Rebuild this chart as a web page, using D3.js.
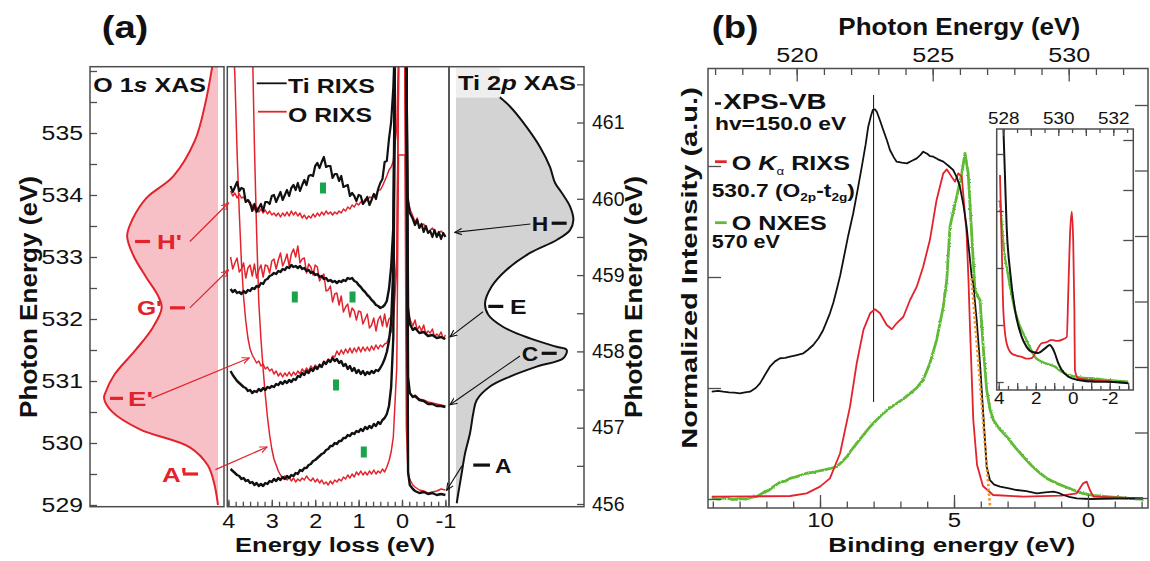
<!DOCTYPE html>
<html>
<head>
<meta charset="utf-8">
<script src="https://cdn.jsdelivr.net/npm/d3@7/dist/d3.min.js"></script>
<style>
  body { margin: 0; background: #fff; }
  svg { display: block; }
  text { font-family: 'Liberation Sans', Arial, Helvetica, sans-serif; }
</style>
</head>
<body>
<svg id="chart" width="1150" height="561"></svg>
<script>
// ---------- panel (a) data ----------
// O 1s XAS: [photon energy (eV), intensity]
const oXas = [
  [536.07, 0.045], [535.47, 0.10], [534.88, 0.18], [534.30, 0.35], [533.95, 0.56], [533.6, 0.67],
  [533.34, 0.71], [533.02, 0.66], [532.67, 0.56], [532.38, 0.47], [532.18, 0.44], [531.86, 0.51],
  [531.51, 0.64], [531.1, 0.81], [530.81, 0.88], [530.72, 0.89], [530.51, 0.83], [530.22, 0.61],
  [529.93, 0.22], [529.64, 0.08], [529.35, 0.03], [529.0, 0.0]
]
// Ti 2p XAS: [photon energy (eV), intensity]
const tiXas = [
  [461.36, 0.342], [461.21, 0.45], [460.94, 0.589], [460.68, 0.70], [460.42, 0.783], [460.21, 0.825],
  [460.08, 0.881], [459.90, 0.95], [459.72, 0.978], [459.59, 0.95], [459.46, 0.839], [459.29, 0.617],
  [459.07, 0.422], [458.85, 0.297], [458.63, 0.242], [458.48, 0.269], [458.32, 0.394], [458.17, 0.617],
  [458.06, 0.839], [458.02, 0.922], [457.91, 0.894], [457.80, 0.672], [457.67, 0.45], [457.54, 0.283],
  [457.36, 0.172], [457.19, 0.144], [456.93, 0.117], [456.66, 0.075], [456.40, 0.047], [456.14, 0.019],
  [456.01, 0.006]
]

// RIXS spectra (offset), sampled on the loss grid 3.95 ... 0.30 eV, then elastic peak + tail
const lossGrid = d3.range(74).map(i => +(3.95 - i * 0.05).toFixed(2))

const tiH = [
  32.1, 31.5, 32.0, 32.5, 31.6, 31.9, 31.8, 30.5, 30.7, 30.4,
  29.6, 30.3, 29.5, 29.9, 30.3, 29.6, 30.5, 30.5, 30.3, 31.1,
  31.2, 30.5, 31.0, 31.5, 30.7, 31.2, 31.7, 31.1, 31.9, 32.2,
  31.7, 32.4, 31.6, 32.2, 32.7, 32.2, 33.1, 33.2, 33.1, 34.1,
  34.4, 33.9, 34.5, 35.0, 34.0, 34.1, 34.1, 32.9, 33.3, 33.3,
  32.6, 33.1, 32.0, 32.1, 32.2, 31.1, 31.4, 31.1, 30.6, 31.2,
  31.1, 30.3, 30.6, 31.0, 30.2, 30.7, 31.3, 30.8, 31.8, 32.4,
  32.8, 34.5, 34.6, 36.8
]
const tiHTail = [[0.25, 38.5], [0.2, 42], [0.16, 47], [-0.1, 47], [-0.13, 31], [-0.18, 29.4], [-0.24, 28.9],
  [-0.3, 28.2], [-0.35, 28.7], [-0.4, 27.9], [-0.45, 28.3], [-0.5, 27.5], [-0.55, 28.1], [-0.6, 27.4],
  [-0.65, 27.6], [-0.7, 27.0], [-0.75, 27.7], [-0.8, 27.0], [-0.85, 27.5], [-0.9, 26.8], [-0.95, 27.4], [-1.0, 27.0]]

const oH = [
  31.6, 31.1, 31.4, 30.9, 31.3, 30.9, 31.0, 30.5, 30.7, 30.2,
  30.2, 29.7, 30.0, 29.5, 29.8, 29.4, 29.7, 29.3, 29.6, 29.2,
  29.4, 29.1, 29.4, 29.0, 29.4, 29.1, 29.5, 29.1, 29.6, 29.2,
  29.5, 29.1, 29.4, 28.9, 29.2, 28.8, 29.1, 28.9, 29.3, 29.0,
  29.4, 29.1, 29.5, 29.2, 29.6, 29.3, 29.5, 29.2, 29.5, 29.3,
  29.6, 29.4, 29.8, 29.6, 30.0, 29.8, 30.2, 30.0, 30.4, 30.2,
  30.5, 30.4, 30.8, 30.6, 31.0, 30.9, 31.3, 31.2, 31.7, 31.7,
  32.1, 32.6, 33.1, 33.7
]
const oHTail = [[0.25, 34.0], [0.2, 34.6], [0.12, 38], [0.07, 47], [-0.06, 47], [-0.11, 32], [-0.15, 30.4],
  [-0.2, 29.6], [-0.25, 29.1], [-0.3, 28.5], [-0.35, 28.9], [-0.4, 28.0], [-0.5, 28.3], [-0.6, 27.5],
  [-0.7, 27.9], [-0.8, 27.2], [-0.9, 27.6], [-1.0, 27.1]]

const tiE = [
  21.8, 21.5, 21.7, 21.4, 21.5, 21.3, 21.6, 21.4, 21.7, 21.6,
  21.9, 21.8, 22.1, 22.0, 22.4, 22.3, 22.7, 22.8, 23.1, 23.2,
  23.4, 23.3, 23.6, 23.5, 23.8, 23.7, 24.0, 23.9, 24.2, 24.0,
  24.1, 23.9, 24.1, 23.8, 23.9, 23.6, 23.7, 23.4, 23.5, 23.2,
  23.3, 23.0, 23.1, 22.8, 22.9, 22.6, 22.7, 22.5, 22.6, 22.4,
  22.6, 22.5, 22.7, 22.6, 22.9, 22.8, 22.9, 22.6, 22.5, 22.2,
  22.0, 21.7, 21.5, 21.2, 21.0, 20.7, 20.5, 20.2, 20.1, 19.9,
  20.0, 20.2, 20.6, 21.8
]
const tiETail = [[0.25, 24], [0.2, 28], [0.16, 47], [-0.1, 47], [-0.14, 20], [-0.18, 18.3], [-0.25, 17.7],
  [-0.3, 17.9], [-0.4, 17.4], [-0.5, 17.5], [-0.6, 17.1], [-0.7, 17.2], [-0.8, 16.9], [-0.9, 17.0], [-1.0, 16.8]]

const oG = [
  25.0, 23.8, 24.4, 24.9, 23.5, 23.8, 24.4, 22.9, 23.9, 24.2,
  23.1, 24.3, 22.9, 23.7, 24.2, 23.0, 24.2, 24.1, 23.4, 24.6,
  24.8, 23.8, 24.7, 25.4, 24.1, 24.6, 25.3, 24.1, 25.3, 25.8,
  25.0, 26.1, 24.4, 24.8, 24.9, 23.4, 24.3, 24.0, 23.2, 24.2,
  24.0, 22.6, 23.0, 23.3, 21.6, 21.7, 22.1, 20.5, 21.3, 21.4,
  20.2, 21.1, 19.5, 20.0, 20.3, 19.0, 19.9, 19.6, 18.7, 19.6,
  19.5, 18.3, 18.8, 19.3, 17.9, 18.2, 18.9, 17.6, 18.7, 19.1,
  18.1, 19.3, 18.0, 18.8
]
const oGTail = [[0.25, 19.0], [0.2, 19.8], [0.12, 25], [0.07, 47], [-0.06, 47], [-0.11, 21], [-0.15, 19.2],
  [-0.2, 18.6], [-0.25, 18.1], [-0.3, 18.7], [-0.35, 17.7], [-0.4, 18.1], [-0.45, 17.6], [-0.5, 18.2],
  [-0.55, 17.3], [-0.6, 17.6], [-0.65, 17.4], [-0.7, 17.8], [-0.75, 17.0], [-0.8, 17.3], [-0.85, 17.1],
  [-0.9, 17.5], [-0.95, 16.8], [-1.0, 17.2]]

const tiC = [
  13.6, 13.2, 12.9, 12.6, 12.4, 12.2, 12.0, 11.9, 11.6, 11.7,
  11.4, 11.6, 11.5, 11.8, 11.6, 11.9, 11.7, 12.0, 11.9, 12.1,
  12.0, 12.3, 12.2, 12.5, 12.3, 12.6, 12.4, 12.7, 12.5, 12.8,
  12.7, 13.1, 13.0, 13.4, 13.2, 13.6, 13.4, 13.8, 13.6, 14.0,
  13.8, 14.2, 14.0, 14.5, 14.3, 14.7, 14.5, 14.9, 14.6, 14.8,
  14.4, 14.6, 14.1, 14.3, 13.8, 14.1, 13.6, 13.9, 13.4, 13.7,
  13.3, 13.6, 13.2, 13.5, 13.3, 13.6, 13.4, 13.7, 13.6, 13.9,
  14.3, 14.8, 15.5, 16.6
]
const tiCTail = [[0.25, 18.5], [0.2, 24], [0.16, 47], [-0.1, 47], [-0.14, 13], [-0.18, 11.4], [-0.25, 11.0],
  [-0.3, 11.1], [-0.4, 10.7], [-0.5, 10.6], [-0.6, 10.3], [-0.7, 10.3], [-0.8, 10.1], [-0.9, 10.1], [-1.0, 10.0]]

const oE = [
  null, 48, 43, 35.5, 29.5, 24.5, 21.0, 18.6, 16.9, 15.8,
  15.2, 14.8, 14.4, 14.6, 14.1, 14.3, 13.8, 14.0, 13.6, 13.8,
  13.3, 13.6, 13.1, 13.4, 13.0, 13.4, 13.1, 13.5, 13.1, 13.5,
  13.2, 13.6, 13.3, 13.8, 13.5, 13.9, 13.6, 14.1, 13.8, 14.2,
  13.9, 14.3, 14.1, 14.6, 14.3, 14.8, 14.5, 15.1, 15.0, 15.6,
  15.2, 15.7, 15.3, 15.8, 15.4, 15.9, 15.4, 15.9, 15.5, 16.0,
  15.5, 16.0, 15.6, 16.0, 15.6, 16.1, 15.7, 16.2, 15.8, 16.2,
  16.0, 16.3, 16.4, 17.0
]
const oETail = [[0.25, 17.5], [0.2, 18.5], [0.12, 24], [0.07, 47], [-0.06, 47], [-0.11, 14], [-0.15, 11.8],
  [-0.2, 11.3], [-0.25, 11.0], [-0.3, 11.2], [-0.4, 10.8], [-0.5, 10.7], [-0.6, 10.5], [-0.7, 10.4],
  [-0.8, 10.3], [-0.9, 10.2], [-1.0, 10.1]]

const tiA = [
  3.8, 3.6, 3.4, 3.2, 3.1, 2.8, 2.9, 2.6, 2.7, 2.4,
  2.5, 2.2, 2.4, 2.1, 2.3, 2.1, 2.4, 2.3, 2.6, 2.5,
  2.8, 2.6, 2.9, 2.7, 3.0, 2.8, 3.1, 2.9, 3.2, 3.1,
  3.4, 3.3, 3.7, 3.6, 3.9, 3.9, 4.2, 4.3, 4.6, 4.7,
  4.9, 5.1, 5.3, 5.4, 5.7, 5.8, 6.1, 6.1, 6.4, 6.3,
  6.6, 6.6, 6.9, 6.9, 7.2, 7.1, 7.4, 7.3, 7.6, 7.5,
  7.8, 7.6, 8.0, 7.8, 8.1, 7.9, 8.3, 8.1, 8.5, 8.3,
  8.7, 8.9, 9.3, 10.1
]
const tiATail = [[0.25, 12], [0.2, 17], [0.16, 47], [-0.1, 47], [-0.14, 3.5], [-0.18, 2.2], [-0.25, 1.8],
  [-0.3, 1.6], [-0.4, 1.4], [-0.5, 1.5], [-0.6, 1.3], [-0.7, 1.4], [-0.8, 1.2], [-0.9, 1.3], [-1.0, 1.2]]

const oA = [
  null, null, null, null, null, null, null, null, null, null,
  47, 36, 27.5, 20.5, 16.8, 13.8, 11.2, 9.0, 7.2, 5.8,
  4.8, 4.2, 3.6, 3.2, 2.9, 3.1, 2.7, 3.0, 2.6, 2.9,
  2.5, 2.8, 2.6, 2.9, 2.7, 3.1, 2.8, 2.6, 2.9, 2.5,
  2.8, 2.4, 2.7, 2.3, 2.5, 2.2, 2.6, 2.3, 2.7, 2.5,
  2.8, 2.6, 3.0, 2.8, 3.2, 2.9, 3.3, 3.0, 3.5, 3.2,
  3.6, 3.2, 3.5, 3.2, 3.6, 3.3, 3.7, 3.3, 3.6, 3.4,
  3.8, 3.5, 4.0, 4.6
]
const oATail = [[0.25, 5.5], [0.2, 7], [0.12, 14], [0.08, 35.2], [-0.07, 35.2], [-0.1, 8], [-0.14, 3.2],
  [-0.2, 2.6], [-0.25, 2.2], [-0.3, 2.0], [-0.4, 1.7], [-0.5, 1.6], [-0.6, 1.4], [-0.7, 1.5], [-0.8, 1.6],
  [-0.9, 1.8], [-1.0, 1.7]]

// green feature markers [loss, intensity]
const greenMarks = [[1.82, 31.9], [2.47, 21.0], [1.14, 21.0], [1.52, 12.2], [0.88, 5.5]]

// O XAS labels: [text, energy, dash from, dash to, text start] (intensity units)
const oLabels = [["H'", 533.25, 0.648, 0.531, 0.477], ["G'", 532.18, 0.375, 0.258, 0.633],
  ["E'", 530.72, 0.844, 0.742, 0.703], ["A'", 529.5, 0.273, 0.156, 0.4375]]
const tiLabels = [["H", 459.68, 0.797, 0.922, 0.631], ["E", 458.59, 0.269, 0.394, 0.45],
  ["C", 457.975, 0.714, 0.839, 0.547], ["A", 456.51, 0.144, 0.283, 0.325]]
// arrows: O XAS [intensity, energy] -> RIXS [loss, intensity]
const oArrows = [[[0.22, 533.25], [4.0, 30.4]], [[0.22, 532.18], [4.0, 23.7]],
  [[0.52, 530.72], [3.52, 14.9]], [[0.02, 529.57], [3.11, 6.0]]]
// arrows inside Ti XAS panel: [intensity, energy] -> [intensity, energy]
const tiArrows = [[[0.62, 459.67], [-0.01, 459.56]], [[0.225, 458.52], [-0.05, 458.19]],
  [[0.533, 457.94], [-0.05, 457.30]], [[0.05, 456.50], [-0.078, 456.18]]]

// ---------- panel (b) data: [binding energy (eV), intensity] ----------
const xpsVB = [[14.04, 0.967], [13.8, 0.975], [13.61, 0.967], [13.4, 0.96], [13.2, 0.958], [12.99, 0.952],
  [12.8, 0.96], [12.61, 0.967], [12.4, 1.0], [12.24, 1.042], [12.05, 1.12], [11.87, 1.192], [11.68, 1.24],
  [11.49, 1.268], [11.3, 1.272], [11.12, 1.282], [10.9, 1.295], [10.62, 1.313], [10.45, 1.345], [10.25, 1.387],
  [10.05, 1.45], [9.88, 1.523], [9.75, 1.6], [9.63, 1.673], [9.5, 1.77], [9.38, 1.883], [9.25, 2.01],
  [9.13, 2.153], [8.95, 2.37], [8.76, 2.574], [8.6, 2.78], [8.44, 2.994], [8.3, 3.19], [8.2, 3.354],
  [8.1, 3.45], [8.03, 3.505], [7.95, 3.51], [7.88, 3.489], [7.76, 3.41], [7.64, 3.324], [7.5, 3.23],
  [7.39, 3.144], [7.25, 3.08], [7.14, 3.039], [6.95, 3.03], [6.76, 3.024], [6.55, 3.05], [6.39, 3.069],
  [6.25, 3.1], [6.15, 3.129], [6.0, 3.11], [5.9, 3.09], [5.77, 3.084], [5.6, 3.06], [5.4, 3.039], [5.2, 3.0],
  [5.03, 2.964], [4.9, 2.9], [4.78, 2.814], [4.65, 2.65], [4.53, 2.453], [4.43, 2.22], [4.34, 2.003],
  [4.28, 1.93], [4.15, 1.6], [4.03, 1.223], [3.91, 0.772], [3.78, 0.291], [3.66, 0.171], [3.5, 0.13],
  [3.28, 0.111], [2.95, 0.095], [2.66, 0.081], [2.3, 0.07], [1.91, 0.051], [1.6, 0.06], [1.29, 0.066],
  [1.1, 0.055], [0.92, 0.036], [0.7, 0.02], [0.42, 0.006], [-0.07, 0], [-1.0, 0.003], [-2.05, 0.006]]

const oKaRixs = [[14.04, 0.021], [12.5, 0.024], [11.12, 0.027], [10.5, 0.051], [10.0, 0.111], [9.63, 0.186],
  [9.25, 0.412], [8.88, 0.832], [8.63, 1.223], [8.38, 1.523], [8.13, 1.673], [7.95, 1.709], [7.76, 1.673],
  [7.51, 1.568], [7.32, 1.529], [7.14, 1.583], [6.89, 1.642], [6.64, 1.793], [6.39, 1.913], [6.15, 2.093],
  [5.9, 2.333], [5.65, 2.694], [5.4, 2.934], [5.27, 2.97], [5.09, 2.904], [4.96, 2.859], [4.84, 2.934],
  [4.71, 2.904], [4.53, 2.394], [4.46, 1.973], [4.4, 1.523], [4.28, 0.712], [4.14, 0.306], [3.92, 0.117],
  [3.54, 0.036], [2.41, 0.021], [1.0, 0.03], [0.42, 0.051], [0.18, 0.141], [0.05, 0.156], [-0.07, 0.081],
  [-0.2, 0.021], [-2.06, 0.006]]

const oNxes = [[14.04, 0.006], [13.75, 0.0], [13.5, 0.012], [13.25, -0.005], [12.99, 0.004], [12.75, 0.0],
  [12.5, 0.018], [12.36, 0.021], [12.1, 0.06], [11.9, 0.08], [11.74, 0.111], [11.5, 0.15], [11.3, 0.16],
  [11.12, 0.186], [10.9, 0.2], [10.7, 0.215], [10.5, 0.232], [10.3, 0.24], [10.1, 0.25], [9.88, 0.261],
  [9.6, 0.275], [9.38, 0.291], [9.2, 0.33], [9.0, 0.381], [8.8, 0.45], [8.63, 0.502], [8.4, 0.57],
  [8.13, 0.651], [7.9, 0.71], [7.64, 0.772], [7.4, 0.82], [7.14, 0.862], [6.9, 0.9], [6.64, 0.952],
  [6.4, 1.0], [6.15, 1.072], [5.9, 1.222], [5.65, 1.432], [5.4, 1.732], [5.27, 1.973], [5.15, 2.453],
  [5.0, 2.62], [4.9, 2.723], [4.71, 2.934], [4.59, 3.114], [4.47, 2.934], [4.34, 2.394], [4.22, 1.883],
  [4.1, 1.82], [4.03, 1.793], [3.91, 1.372], [3.78, 0.982], [3.65, 0.8], [3.53, 0.712], [3.3, 0.63],
  [3.03, 0.561], [2.7, 0.46], [2.41, 0.381], [2.1, 0.3], [1.79, 0.232], [1.5, 0.18], [1.17, 0.141],
  [0.85, 0.11], [0.55, 0.081], [0.2, 0.05], [-0.2, 0.032], [-0.7, 0.021], [-1.3, 0.01], [-2.06, -0.003]]

const edgeFit = [[4.35, 1.99], [3.65, -0.08]]
const markerLine = [[8.0, 0.874], [8.0, 3.64]]

// inset: [energy loss (eV), intensity]
const insetXps = [[3.76, 4.6], [3.66, 3.60], [3.57, 2.72], [3.39, 1.96], [3.12, 1.26], [2.76, 0.795],
  [2.5, 0.62], [2.22, 0.53], [1.86, 0.51], [1.5, 0.59], [1.23, 0.65], [1.1, 0.6], [0.96, 0.50], [0.78, 0.33],
  [0.59, 0.21], [0.24, 0.093], [-0.3, 0.035], [-1.21, 0.005], [-2.2, 0.0], [-3.0, -0.02]]
const insetRixs = [[3.93, 3.63], [3.84, 2.43], [3.75, 1.26], [3.57, 0.68], [3.30, 0.50], [3.0, 0.46],
  [2.76, 0.44], [2.5, 0.41], [2.22, 0.42], [1.95, 0.55], [1.68, 0.68], [1.4, 0.70], [1.14, 0.74], [0.85, 0.72],
  [0.59, 0.74], [0.32, 0.79], [0.24, 1.56], [0.15, 2.55], [0.05, 2.99], [-0.03, 2.43], [-0.09, 1.26],
  [-0.12, 0.21], [-0.3, 0.065], [-1.03, 0.035], [-2.0, 0.01], [-3.0, -0.02]]
const insetNxes = [[3.93, 3.19], [3.75, 2.43], [3.48, 1.85], [3.12, 1.26], [2.85, 0.98], [2.58, 0.795],
  [2.3, 0.6], [2.04, 0.44], [1.75, 0.37], [1.5, 0.33], [1.2, 0.3], [0.96, 0.27], [0.7, 0.2], [0.42, 0.15],
  [-0.12, 0.093], [-0.6, 0.07], [-1.03, 0.065], [-2.0, 0.03], [-3.0, 0.005]]

// ---------- drawing ----------
const RED = '#e3232c', BLACK = '#111', GREEN = '#5fbb35', ORANGE = '#f7901e', FRAME = '#4d4d4d'
const svg = d3.select('#chart')
svg.append('rect').attr('width', 1150).attr('height', 561).attr('fill', '#fff')
const defs = svg.append('defs')

function clip(id, x, y, w, h) {
  defs.append('clipPath').attr('id', id).append('rect')
    .attr('x', x).attr('y', y).attr('width', w).attr('height', h)
}
function arrowHead(id, color) {
  defs.append('marker').attr('id', id).attr('viewBox', '0 0 10 10')
    .attr('refX', 9).attr('refY', 5).attr('markerWidth', 8).attr('markerHeight', 8)
    .attr('markerUnits', 'userSpaceOnUse').attr('orient', 'auto')
    .append('path').attr('d', 'M0,1 L9,5 L0,9').attr('fill', 'none')
    .attr('stroke', color).attr('stroke-width', 1.4)
}
arrowHead('headRed', RED)
arrowHead('headBlack', BLACK)

// measurement noise look for the recorded traces (rendering effect only)
const noisy = defs.append('filter').attr('id', 'noisy').attr('filterUnits', 'userSpaceOnUse')
  .attr('x', 0).attr('y', 0).attr('width', 1150).attr('height', 561)
noisy.append('feTurbulence').attr('type', 'fractalNoise').attr('baseFrequency', 0.6)
  .attr('numOctaves', 1).attr('seed', 4).attr('result', 'n')
noisy.append('feDisplacementMap').attr('in', 'SourceGraphic').attr('in2', 'n').attr('scale', 2.6)
  .attr('xChannelSelector', 'R').attr('yChannelSelector', 'G')

// stretch text horizontally to the width it has in the figure
function fit(t, x, y, w, rotate) {
  const bw = t.node().getBBox().width
  t.attr('transform', `translate(${x},${y})` + (rotate ? ' rotate(-90)' : '') + ` scale(${w / bw},1)`)
  return t
}
function label(parent, str, x, y, size, w, opts = {}) {
  const t = parent.append('text').attr('font-size', size).attr('font-weight', opts.weight || 'bold')
    .attr('fill', opts.color || BLACK).attr('text-anchor', opts.anchor || 'start').text(str)
  return fit(t, x, y, w, opts.rotate)
}
function styleAxis(g, size, sx = 1.18) {
  g.select('.domain').remove()
  g.selectAll('.tick line').attr('stroke', FRAME).attr('stroke-width', 1.3)
  g.selectAll('.tick text').attr('font-size', size).attr('fill', BLACK)
    .attr('transform', `scale(${sx},1)`)
  return g
}
function frame(x, y, w, h, fill) {
  svg.append('rect').attr('x', x).attr('y', y).attr('width', w).attr('height', h)
    .attr('fill', fill || 'none').attr('stroke', FRAME).attr('stroke-width', 1.5)
}

// ===== panel (a) =====
const A = { oLeft: 90, oRight: 224, midLeft: 227.3, midRight: 449, tiRight: 584, top: 66.7, bottom: 506.7 }
const yO = d3.scaleLinear().domain([529, 536]).range([505, 71])
const xO = d3.scaleLinear().domain([0, 1]).range([218, 90])
const xL = d3.scaleLinear().domain([4, -1]).range([228.4, 445.4])
const yR = d3.scaleLinear().domain([0, 44]).range([507, 67])
const yT = d3.scaleLinear().domain([456, 461]).range([504, 122.5])
const xT = d3.scaleLinear().domain([0, 1]).range([456, 576])

clip('clipO', A.oLeft, A.top, A.oRight - A.oLeft, A.bottom - A.top)
clip('clipMid', A.midLeft, A.top, A.midRight - A.midLeft, A.bottom - A.top)
clip('clipTi', A.midRight, A.top, A.tiRight - A.midRight, A.bottom - A.top)

// O 1s XAS
const gO = svg.append('g').attr('clip-path', 'url(#clipO)')
gO.append('path').datum(oXas)
  .attr('d', d3.area().curve(d3.curveCatmullRom).y(d => yO(d[0])).x0(xO(0)).x1(d => xO(d[1])))
  .attr('fill', '#f6c0c6')
gO.append('path').datum(oXas)
  .attr('d', d3.line().curve(d3.curveCatmullRom).y(d => yO(d[0])).x(d => xO(d[1])))
  .attr('fill', 'none').attr('stroke', RED).attr('stroke-width', 2)

// Ti 2p XAS
const gT = svg.append('g').attr('clip-path', 'url(#clipTi)')
gT.append('path').datum(tiXas)
  .attr('d', d3.area().curve(d3.curveCatmullRom).y(d => yT(d[0])).x0(xT(0)).x1(d => xT(d[1])))
  .attr('fill', '#d3d3d3')
gT.append('path').datum(tiXas)
  .attr('d', d3.line().curve(d3.curveCatmullRom).y(d => yT(d[0])).x(d => xT(d[1])))
  .attr('fill', 'none').attr('stroke', BLACK).attr('stroke-width', 2)
gT.append('rect').attr('x', xT(0)).attr('y', A.top + 1).attr('width', 44).attr('height', 30).attr('fill', '#eeeeee')

// RIXS spectra
const gM = svg.append('g').attr('clip-path', 'url(#clipMid)')
const rixsLine = d3.line().defined(d => d[1] != null).x(d => xL(d[0])).y(d => yR(d[1]))
const spectra = [
  [oH, oHTail, RED, 1.5], [oG, oGTail, RED, 1.5], [oE, oETail, RED, 1.5], [oA, oATail, RED, 1.5],
  [tiH, tiHTail, BLACK, 2.2], [tiE, tiETail, BLACK, 2.4], [tiC, tiCTail, BLACK, 2.4], [tiA, tiATail, BLACK, 2.4]
]
spectra.forEach(([vals, tail, color, w]) => {
  const pts = lossGrid.map((L, i) => [L, vals[i]]).concat(tail)
  gM.append('path').datum(pts).attr('d', rixsLine)
    .attr('fill', 'none').attr('stroke', color).attr('stroke-width', w).attr('stroke-linejoin', 'round')
})
gM.selectAll('.mark').data(greenMarks).join('rect').attr('class', 'mark')
  .attr('x', d => xL(d[0]) - 3).attr('y', d => yR(d[1]) - 5.5).attr('width', 6).attr('height', 11)
  .attr('fill', '#1aa34a')

// legend inside RIXS panel
svg.append('line').attr('x1', 256.7).attr('x2', 286.7).attr('y1', 83.3).attr('y2', 83.3)
  .attr('stroke', BLACK).attr('stroke-width', 1.8)
svg.append('line').attr('x1', 258).attr('x2', 286.7).attr('y1', 111.7).attr('y2', 111.7)
  .attr('stroke', RED).attr('stroke-width', 1.8)
label(svg, 'Ti RIXS', 288, 93, 20, 87)
label(svg, 'O RIXS', 288, 121.5, 20, 84)

// frames
frame(A.oLeft, A.top, A.oRight - A.oLeft, A.bottom - A.top)
frame(A.midLeft, A.top, A.midRight - A.midLeft, A.bottom - A.top)
frame(A.midRight, A.top, A.tiRight - A.midRight, A.bottom - A.top)

// axes (a)
styleAxis(svg.append('g').attr('transform', `translate(${A.oLeft},0)`)
  .call(d3.axisLeft(yO).tickValues(d3.range(529, 536.01, 0.5)).tickSizeInner(-7).tickSizeOuter(0)
    .tickPadding(6).tickFormat(d => Number.isInteger(d) && d < 536 ? d : '')), 21)
styleAxis(svg.append('g').attr('transform', `translate(${A.tiRight},0)`)
  .call(d3.axisRight(yT).tickValues(d3.range(456, 461.6, 0.5)).tickSizeInner(-7).tickSizeOuter(0)
    .tickPadding(8).tickFormat(d => Number.isInteger(d) ? d : '')), 19.5, 1.0)
styleAxis(svg.append('g').attr('transform', `translate(0,${A.bottom})`)
  .call(d3.axisBottom(xL).tickValues(d3.range(31).map(i => -1 + i / 6)).tickSizeInner(-5)
    .tickSizeOuter(0).tickFormat('')), 21)
styleAxis(svg.append('g').attr('transform', `translate(0,${A.bottom})`)
  .call(d3.axisBottom(xL).tickValues([4, 3, 2, 1, 0, -1]).tickSizeInner(-7).tickSizeOuter(0)
    .tickPadding(6).tickFormat(d => String(d))), 21, 1.12)

// O XAS labels + arrows
oLabels.forEach(([txt, e, d0, d1, tx]) => {
  svg.append('line').attr('x1', xO(d0)).attr('x2', xO(d1)).attr('y1', yO(e)).attr('y2', yO(e))
    .attr('stroke', RED).attr('stroke-width', 3.2)
  label(svg, txt, xO(tx), yO(e) + 7.5, 21, 25, { color: RED })
})
oArrows.forEach(([f, t]) => {
  svg.append('line').attr('x1', xO(f[0])).attr('y1', yO(f[1])).attr('x2', xL(t[0])).attr('y2', yR(t[1]))
    .attr('stroke', RED).attr('stroke-width', 1.2).attr('marker-end', 'url(#headRed)')
})
tiLabels.forEach(([txt, e, d0, d1, tx]) => {
  svg.append('line').attr('x1', xT(d0)).attr('x2', xT(d1)).attr('y1', yT(e)).attr('y2', yT(e))
    .attr('stroke', BLACK).attr('stroke-width', 3.2)
  label(svg, txt, xT(tx), yT(e) + 7.5, 21, 16.5)
})
tiArrows.forEach(([f, t]) => {
  svg.append('line').attr('x1', xT(f[0])).attr('y1', yT(f[1])).attr('x2', xT(t[0])).attr('y2', yT(t[1]))
    .attr('stroke', BLACK).attr('stroke-width', 1.1).attr('marker-end', 'url(#headBlack)')
})

// panel (a) texts
label(svg, '(a)', 101.7, 38, 31, 46.6)
{
  const t = svg.append('text').attr('font-size', 20).attr('font-weight', 'bold').attr('fill', BLACK)
  t.append('tspan').text('O 1')
  t.append('tspan').attr('font-style', 'italic').text('s')
  t.append('tspan').text(' XAS')
  fit(t, 93.3, 92, 112.7)
  const u = svg.append('text').attr('font-size', 20).attr('font-weight', 'bold').attr('fill', BLACK)
  u.append('tspan').text('Ti 2')
  u.append('tspan').attr('font-style', 'italic').text('p')
  u.append('tspan').text(' XAS')
  fit(u, 458, 90, 118)
}
label(svg, 'Photon Energy (eV)', 37, 297, 23, 242, { anchor: 'middle', rotate: true })
label(svg, 'Photon Energy (eV)', 642, 297, 23, 242, { anchor: 'middle', rotate: true })
label(svg, 'Energy loss (eV)', 335, 552, 21, 200, { anchor: 'middle' })

// ===== panel (b) =====
const B = { left: 708, right: 1148, top: 68.5, bottom: 508 }
const xB = d3.scaleLinear().domain([14, -2]).range([712.8, 1141.6])
const xP = d3.scaleLinear().domain([520, 530]).range([796.7, 1068.7])
const yB = d3.scaleLinear().domain([0, 3]).range([499, 166])
const yBR = d3.scaleLinear().domain([0, 6]).range([498, 105])
clip('clipB', B.left, B.top, B.right - B.left, B.bottom - B.top)

const gB = svg.append('g').attr('clip-path', 'url(#clipB)')
const bLine = d3.line().x(d => xB(d[0])).y(d => yB(d[1]))
gB.append('path').datum(markerLine).attr('d', bLine).attr('stroke', BLACK).attr('stroke-width', 1)
gB.append('path').datum(oNxes).attr('d', bLine).attr('fill', 'none').attr('stroke', GREEN)
  .attr('stroke-width', 2.8).attr('stroke-linejoin', 'round').attr('filter', 'url(#noisy)')
gB.append('path').datum(oKaRixs).attr('d', bLine).attr('fill', 'none').attr('stroke', RED)
  .attr('stroke-width', 1.8).attr('stroke-linejoin', 'round')
gB.append('path').datum(xpsVB).attr('d', bLine).attr('fill', 'none').attr('stroke', BLACK)
  .attr('stroke-width', 1.8).attr('stroke-linejoin', 'round')
gB.append('path').datum(edgeFit).attr('d', bLine).attr('fill', 'none').attr('stroke', ORANGE)
  .attr('stroke-width', 2.6).attr('stroke-dasharray', '2.4 2.4')

frame(B.left, B.top, B.right - B.left, B.bottom - B.top)

styleAxis(svg.append('g').attr('transform', `translate(0,${B.bottom})`)
  .call(d3.axisBottom(xB).tickValues(d3.range(-2, 15)).tickSizeInner(-6.5).tickSizeOuter(0).tickFormat('')), 21)
styleAxis(svg.append('g').attr('transform', `translate(0,${B.bottom})`)
  .call(d3.axisBottom(xB).tickValues([10, 5, 0]).tickSizeInner(-13).tickSizeOuter(0).tickPadding(4)
    .tickFormat(d => String(d))), 21, 1.14)
styleAxis(svg.append('g').attr('transform', `translate(0,${B.top})`)
  .call(d3.axisTop(xP).tickValues(d3.range(517, 533)).tickSizeInner(-6.5).tickSizeOuter(0).tickFormat('')), 21)
styleAxis(svg.append('g').attr('transform', `translate(0,${B.top})`)
  .call(d3.axisTop(xP).tickValues([520, 525, 530]).tickSizeInner(-13).tickSizeOuter(0).tickPadding(7)
    .tickFormat(d => String(d))), 21, 1.2)
styleAxis(svg.append('g').attr('transform', `translate(${B.left},0)`)
  .call(d3.axisLeft(yB).tickValues([0, 1, 2, 3]).tickSizeInner(-13).tickSizeOuter(0).tickFormat('')), 21)
styleAxis(svg.append('g').attr('transform', `translate(${B.right},0)`)
  .call(d3.axisRight(yBR).tickValues(d3.range(0, 7)).tickSizeInner(-13).tickSizeOuter(0).tickFormat('')), 21)

// inset
const I = { left: 996.7, right: 1133.3, top: 129, bottom: 390 }
const xI = d3.scaleLinear().domain([4, -2]).range([998.7, 1109.7])
const xIP = d3.scaleLinear().domain([528, 532]).range([1003.3, 1113.3])
const yI = d3.scaleLinear().domain([0, 4]).range([382, 154])
const yIR = d3.scaleLinear().domain([0, 5]).range([390, 140])
clip('clipI', I.left, I.top, I.right - I.left, I.bottom - I.top)
svg.append('rect').attr('x', I.left).attr('y', I.top).attr('width', I.right - I.left)
  .attr('height', I.bottom - I.top).attr('fill', '#fff')
const gI = svg.append('g').attr('clip-path', 'url(#clipI)')
const iLine = d3.line().curve(d3.curveMonotoneX).x(d => xI(d[0])).y(d => yI(d[1]))
gI.append('path').datum(insetNxes).attr('d', iLine).attr('fill', 'none').attr('stroke', GREEN)
  .attr('stroke-width', 2.4).attr('filter', 'url(#noisy)')
gI.append('path').datum(insetRixs).attr('d', iLine).attr('fill', 'none').attr('stroke', RED)
  .attr('stroke-width', 1.8)
gI.append('path').datum(insetXps).attr('d', iLine).attr('fill', 'none').attr('stroke', BLACK).attr('stroke-width', 2)
frame(I.left, I.top, I.right - I.left, I.bottom - I.top)

styleAxis(svg.append('g').attr('transform', `translate(0,${I.top})`)
  .call(d3.axisTop(xIP).tickValues(d3.range(528, 532.51, 0.5)).tickSizeInner(-4).tickSizeOuter(0).tickFormat('')), 16)
styleAxis(svg.append('g').attr('transform', `translate(0,${I.top})`)
  .call(d3.axisTop(xIP).tickValues([528, 529, 530, 531, 532]).tickSizeInner(-7).tickSizeOuter(0).tickPadding(5.5)
    .tickFormat(d => d % 2 === 0 ? String(d) : '')), 16, 1.18)
styleAxis(svg.append('g').attr('transform', `translate(0,${I.bottom})`)
  .call(d3.axisBottom(xI).tickValues(d3.range(-3, 4.01, 0.5)).tickSizeInner(-4).tickSizeOuter(0).tickFormat('')), 16)
styleAxis(svg.append('g').attr('transform', `translate(0,${I.bottom})`)
  .call(d3.axisBottom(xI).tickValues(d3.range(-3, 5)).tickSizeInner(-7).tickSizeOuter(0).tickPadding(3)
    .tickFormat(d => d % 2 === 0 ? String(d) : '')), 16, 1.18)
styleAxis(svg.append('g').attr('transform', `translate(${I.left},0)`)
  .call(d3.axisLeft(yI).tickValues([0, 1, 2, 3, 4]).tickSizeInner(-7).tickSizeOuter(0).tickFormat('')), 16)
styleAxis(svg.append('g').attr('transform', `translate(${I.right},0)`)
  .call(d3.axisRight(yIR).tickValues([1, 2, 3, 4, 5]).tickSizeInner(-10).tickSizeOuter(0).tickFormat('')), 16)

// legend (b)
svg.append('line').attr('x1', 715).attr('x2', 721).attr('y1', 103.5).attr('y2', 103.5).attr('stroke', BLACK).attr('stroke-width', 2.5)
svg.append('line').attr('x1', 715).attr('x2', 726.7).attr('y1', 161.7).attr('y2', 161.7).attr('stroke', RED).attr('stroke-width', 2.8)
svg.append('line').attr('x1', 715).attr('x2', 726.7).attr('y1', 222.7).attr('y2', 222.7).attr('stroke', GREEN).attr('stroke-width', 2.8)
label(svg, 'XPS-VB', 723.3, 109.3, 22, 103.4)
label(svg, 'hv=150.0 eV', 715, 130, 19, 131.7)
{
  const t = svg.append('text').attr('font-size', 21).attr('font-weight', 'bold').attr('fill', BLACK)
  t.append('tspan').text('O ')
  t.append('tspan').attr('font-style', 'italic').text('K')
  t.append('tspan').attr('font-size', 11).attr('font-weight', 'normal').attr('dy', 5).text('α')
  t.append('tspan').attr('dy', -5).text(' RIXS')
  fit(t, 731.7, 170, 118.3)
  const u = svg.append('text').attr('font-size', 17.5).attr('font-weight', 'bold').attr('fill', BLACK)
  u.append('tspan').text('530.7 (O')
  u.append('tspan').attr('font-size', 10.5).attr('dy', 4).text('2p')
  u.append('tspan').attr('dy', -4).text('-t')
  u.append('tspan').attr('font-size', 10.5).attr('dy', 4).text('2g')
  u.append('tspan').attr('dy', -4).text(')')
  fit(u, 711.7, 196.7, 143.3)
}
label(svg, 'O NXES', 731.7, 230, 21, 95)
label(svg, '570 eV', 711.7, 248.3, 18, 68.3)

label(svg, '(b)', 711.7, 38, 31, 46.6)
label(svg, 'Photon Energy (eV)', 838.3, 35, 23, 242)
label(svg, 'Binding energy (eV)', 951.7, 552, 21, 247, { anchor: 'middle' })
label(svg, 'Normalized Intensity (a.u.)', 697, 268, 22, 362, { anchor: 'middle', rotate: true })
</script>
</body>
</html>
